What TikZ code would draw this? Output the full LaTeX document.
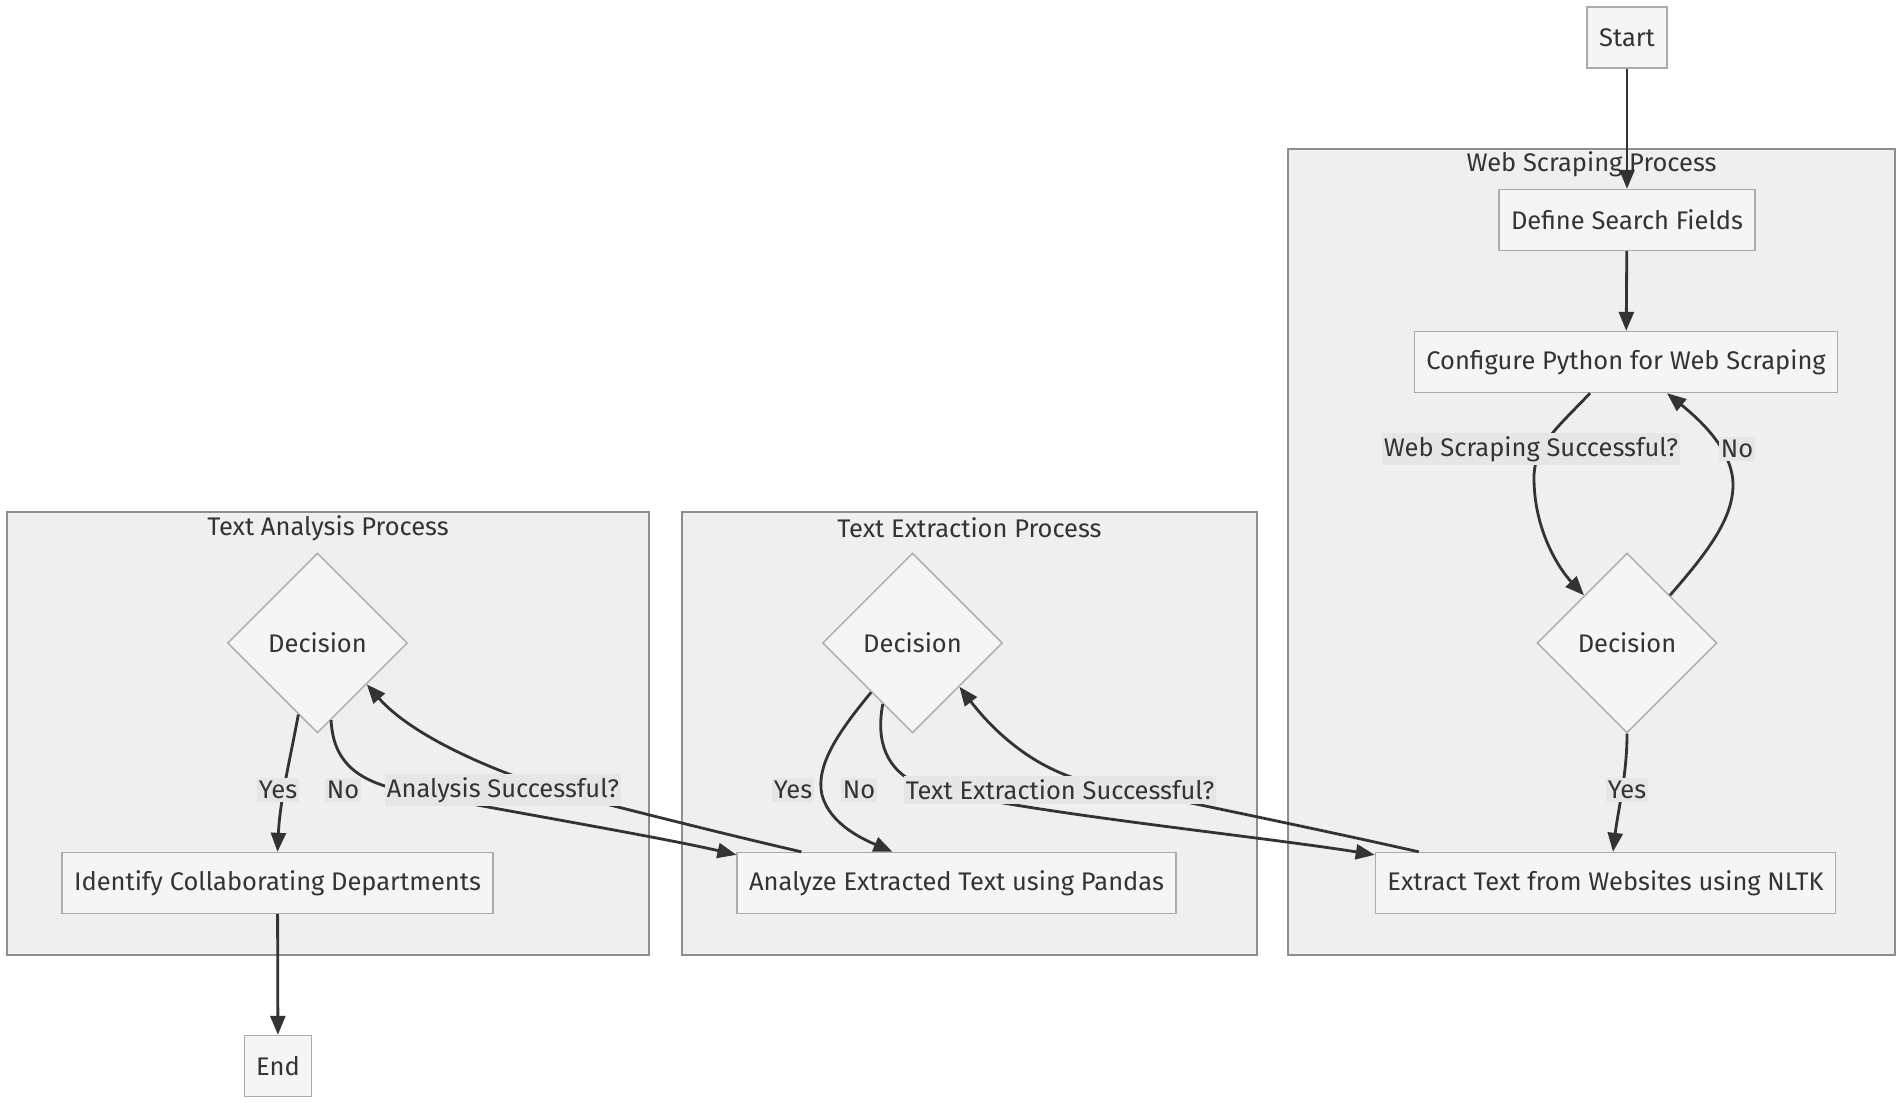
\documentclass[tikz,border=0pt]{standalone}
\usepackage{fontspec}
\setmainfont{Fira Sans}
\usetikzlibrary{arrows.meta,shapes.geometric,calc}

\definecolor{boxfill}{HTML}{F5F5F5}
\definecolor{boxline}{HTML}{ABABAB}
\definecolor{grpfill}{HTML}{EFEFEF}
\definecolor{grpline}{HTML}{8E8E8E}
\definecolor{ink}{HTML}{333333}
\definecolor{lblfill}{HTML}{E6E6E6}

\begin{document}
\begin{tikzpicture}[x=0.02cm,y=-0.02cm,
    font=\fontsize{14.5}{17}\selectfont,text=ink,
    proc/.style={draw=boxline,fill=boxfill,line width=0.8pt,minimum height=1.22cm,inner xsep=0.24cm},
    decide/.style={diamond,draw=boxline,fill=boxfill,line width=0.8pt,minimum width=3.6cm,minimum height=3.6cm,inner sep=0pt},
    group/.style={draw=grpline,fill=grpfill,line width=0.9pt,inner sep=0pt},
    flow/.style={draw=ink,line width=1.6pt,-{Triangle[length=0.38cm,width=0.3cm]}},
    lbl/.style={fill=lblfill,inner xsep=1pt,inner ysep=2pt}]
  \useasboundingbox (0,0) rectangle (1902,1105);

  %% the three process groups
  \node[group,minimum width=12.14cm,minimum height=16.12cm] (gWeb) at (1591.5,552) {};
  \node[group,minimum width=11.5cm,minimum height=8.86cm] (gExt) at (969.5,733.5) {};
  \node[group,minimum width=12.84cm,minimum height=8.86cm] (gAna) at (328,733.5) {};
  \node (tWeb) at (1591.5,164) {Web Scraping Process};
  \node (tExt) at (969.5,528) {Text Extraction Process};
  \node (tAna) at (328,528) {Text Analysis Process};

  %% steps
  \node[proc] (start) at (1627,37.5) {Start};
  \node[proc] (define) at (1627,220) {Define Search Fields};
  \node[proc] (config) at (1626,362) {Configure Python for Web Scraping};
  \node[decide] (dWeb) at (1627,643) {Decision};
  \node[proc] (extract) at (1605.5,883) {Extract Text from Websites using NLTK};
  \node[decide] (dExt) at (912.5,643) {Decision};
  \node[proc] (analyze) at (956.5,883) {Analyze Extracted Text using Pandas};
  \node[decide] (dAna) at (317.5,643) {Decision};
  \node[proc] (identify) at (277.5,883) {Identify Collaborating Departments};
  \node[proc] (finish) at (278,1066) {End};

  %% connectors
  \draw[flow] (start) -- (define);
  \draw[flow] (define) -- (config);
  \draw[flow] ($(config.south)+(-36,0)$) .. controls (1560,425) and (1535,445) .. (1534,475)
    .. controls (1533,530) and (1560,570) .. (dWeb.132);
  \draw[flow] (dWeb.48) .. controls (1705,555) and (1733,520) .. (1733,485)
    .. controls (1733,450) and (1700,420) .. ($(config.south)+(41,0)$);
  \draw[flow] (dWeb.south) .. controls (1627,775) and (1618,810) .. ($(extract.north)+(7.5,0)$);
  \draw[flow] ($(extract.north west)+(44,0)$) .. controls (1300,825) and (1150,795) .. (1074,778)
    .. controls (1020,760) and (985,720) .. (dExt.317);
  \draw[flow] (dExt.230) .. controls (840,730) and (815,765) .. (822,795)
    .. controls (830,825) and (865,840) .. ($(analyze.north)+(-64,0)$);
  \draw[flow] (dExt.244) .. controls (876,740) and (885,770) .. (920,785)
    .. controls (1000,810) and (1250,835) .. ($(extract.north west)+(0,3)$);
  \draw[flow] ($(analyze.north west)+(65,0)$) .. controls (720,833) and (650,815) .. (590,800)
    .. controls (530,785) and (420,745) .. (dAna.320);
  \draw[flow] (dAna.280) .. controls (333,760) and (355,780) .. (400,790)
    .. controls (470,805) and (650,835) .. ($(analyze.north west)+(0,3)$);
  \draw[flow] (dAna.255) .. controls (290,760) and (280,800) .. (identify.north);
  \draw[flow] (identify) -- (finish);

  %% connector labels
  \node[lbl] (qWeb) at (1531,449) {Web Scraping Successful?};
  \node[lbl] (nWeb) at (1737,449) {No};
  \node[lbl] (yWeb) at (1627,790) {Yes};
  \node[lbl] (qExt) at (1060,790) {Text Extraction Successful?};
  \node[lbl] (yExt) at (793,790) {Yes};
  \node[lbl] (nExt) at (859,790) {No};
  \node[lbl] (qAna) at (503,790) {Analysis Successful?};
  \node[lbl] (yAna) at (278,790) {Yes};
  \node[lbl] (nAna) at (343,790) {No};
\end{tikzpicture}
\end{document}
